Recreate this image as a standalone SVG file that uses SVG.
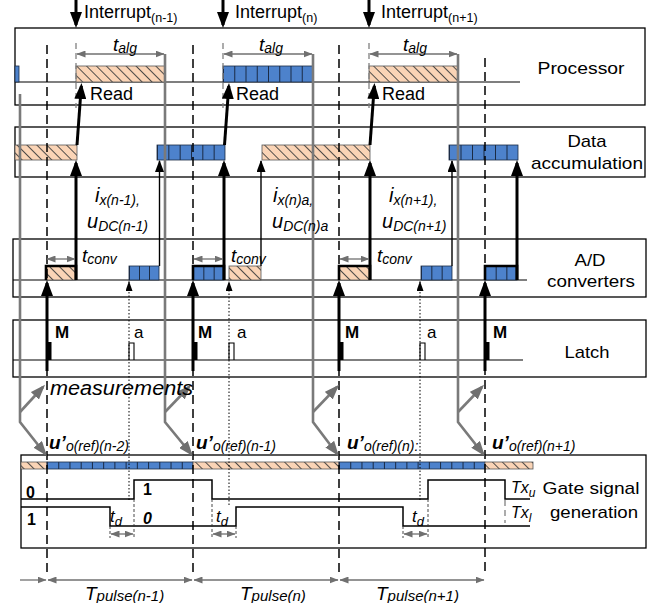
<svg xmlns="http://www.w3.org/2000/svg" width="647" height="603" viewBox="0 0 647 603">
<defs>
<pattern id="hatch" patternUnits="userSpaceOnUse" width="7" height="7" patternTransform="rotate(-45)">
<rect x="-1" y="-1" width="9" height="9" fill="#FAD4B6"/>
<line x1="0.5" y1="-1" x2="0.5" y2="8" stroke="#3c3c3c" stroke-width="0.9"/>
</pattern>
<marker id="ab" viewBox="0 0 16 12" refX="13" refY="6" markerWidth="16" markerHeight="12" markerUnits="userSpaceOnUse" orient="auto"><path d="M0,0L16,6L0,12z" fill="#000"/></marker>
<marker id="as" viewBox="0 0 12 9" refX="11" refY="4.5" markerWidth="12" markerHeight="9" markerUnits="userSpaceOnUse" orient="auto"><path d="M0,0L12,4.5L0,9z" fill="#000"/></marker>
<marker id="aa" viewBox="0 0 10 7" refX="10" refY="3.5" markerWidth="10" markerHeight="7" markerUnits="userSpaceOnUse" orient="auto"><path d="M0,0L10,3.5L0,7z" fill="#000"/></marker>
<marker id="ag" viewBox="0 0 15 11" refX="12" refY="5.5" markerWidth="15" markerHeight="11" markerUnits="userSpaceOnUse" orient="auto"><path d="M0,0L15,5.5L0,11z" fill="#707070"/></marker>
<marker id="ad" viewBox="0 0 9 7" refX="8.5" refY="3.5" markerWidth="9" markerHeight="7" markerUnits="userSpaceOnUse" orient="auto-start-reverse"><path d="M0,0L9,3.5L0,7z" fill="#707070"/></marker>
</defs>
<style>
text{font-family:"Liberation Sans",Arial,Helvetica,sans-serif;fill:#000}
.lb{font-size:18px}
.rl{font-size:17px}
.it{font-style:italic}
.bd{font-weight:bold}
.box{fill:none;stroke:#000;stroke-width:1.3}
.tl{fill:none;stroke:#000;stroke-width:1.1}
.dash{fill:none;stroke:#000;stroke-width:1.5;stroke-dasharray:9 5}
.gdash{fill:none;stroke:#808080;stroke-width:1.3;stroke-dasharray:6 4}
.dot{fill:none;stroke:#000;stroke-width:1;stroke-dasharray:1.5 2}
.tick{fill:none;stroke:#333;stroke-width:0.9;stroke-dasharray:3 2}
.gl{fill:none;stroke:#7a7a7a;stroke-width:2.6}
.thick{fill:none;stroke:#000;stroke-width:3}
.thin{fill:none;stroke:#000;stroke-width:1.4}
.dim{fill:none;stroke:#707070;stroke-width:1.3}
.or{fill:url(#hatch);stroke:#555;stroke-width:0.8}
.bl{fill:#4D82CC;stroke:#1b2b45;stroke-width:0.8}
.cell{stroke:#1b2b45}
.ob{fill:none;stroke:#000;stroke-width:2.6}
.sig{fill:none;stroke:#000;stroke-width:1.5}
</style>

<!-- row boxes -->
<g id="processor">
<rect class="box" x="15" y="28" width="630" height="77"/>
<line class="tl" x1="15" y1="82" x2="520" y2="82"/>
<rect class="bl" x="15" y="66" width="4" height="16"/>
<rect class="or" x="76" y="66" width="89" height="16"/>
<rect class="bl" x="223" y="66" width="90" height="16"/>
<line class="cell" x1="223" y1="74" x2="313" y2="74" stroke-width="16" stroke-dasharray="1 10.25"/>
<rect class="or" x="369" y="66" width="89" height="16"/>
<text class="rl" x="581" y="74" text-anchor="middle" textLength="87" lengthAdjust="spacingAndGlyphs">Processor</text>
</g>

<g id="data-accumulation">
<rect class="box" x="15" y="127" width="630" height="50"/>
<rect class="or" x="15" y="145" width="62" height="15"/>
<rect class="bl" x="157" y="145" width="68" height="15"/>
<line class="cell" x1="157" y1="152.5" x2="225" y2="152.5" stroke-width="15" stroke-dasharray="1 10.33"/>
<rect class="or" x="262" y="145" width="108" height="15"/>
<rect class="bl" x="449" y="145" width="69" height="15"/>
<line class="cell" x1="449" y1="152.5" x2="518" y2="152.5" stroke-width="15" stroke-dasharray="1 10.5"/>
<text class="rl" x="587" y="147" text-anchor="middle" textLength="39" lengthAdjust="spacingAndGlyphs">Data</text>
<text class="rl" x="587" y="169" text-anchor="middle" textLength="112" lengthAdjust="spacingAndGlyphs">accumulation</text>
</g>

<g id="ad-converters">
<rect class="box" x="13" y="239" width="633" height="58"/>
<line class="tl" x1="13" y1="280" x2="527" y2="280"/>
<rect class="or" x="46" y="266" width="30" height="14"/>
<path class="ob" d="M46,280V266H76V280"/>
<rect class="bl" x="129" y="266" width="30" height="14"/>
<line class="cell" x1="129" y1="273" x2="159" y2="273" stroke-width="14" stroke-dasharray="1 9"/>
<rect class="bl" x="193" y="266" width="31" height="14"/>
<line class="cell" x1="193" y1="273" x2="224" y2="273" stroke-width="14" stroke-dasharray="1 9.33"/>
<path class="ob" d="M193,280V266H224V280"/>
<rect class="or" x="229" y="266" width="32" height="14"/>
<rect class="or" x="339" y="266" width="31" height="14"/>
<path class="ob" d="M339,280V266H370V280"/>
<rect class="bl" x="421" y="266" width="31" height="14"/>
<line class="cell" x1="421" y1="273" x2="452" y2="273" stroke-width="14" stroke-dasharray="1 9.33"/>
<rect class="bl" x="485" y="266" width="32" height="14"/>
<line class="cell" x1="485" y1="273" x2="517" y2="273" stroke-width="14" stroke-dasharray="1 9.67"/>
<path class="ob" d="M485,280V266H517V280"/>
<text class="rl" x="590" y="266" text-anchor="middle" textLength="31" lengthAdjust="spacingAndGlyphs">A/D</text>
<text class="rl" x="591" y="287" text-anchor="middle" textLength="88" lengthAdjust="spacingAndGlyphs">converters</text>
</g>

<g id="latch">
<rect class="box" x="13" y="320" width="633" height="57"/>
<line class="tl" x1="13" y1="360" x2="523" y2="360"/>
<rect x="46.5" y="342" width="5" height="18" fill="#000"/>
<rect x="192.5" y="342" width="5" height="18" fill="#000"/>
<rect x="338.5" y="342" width="5" height="18" fill="#000"/>
<rect x="484.5" y="342" width="5" height="18" fill="#000"/>
<path class="tl" d="M129,360V343H134V360M229,360V343H234V360M420,360V343H425V360"/>
<text class="rl bd" x="55" y="338">M</text>
<text class="rl bd" x="198" y="338">M</text>
<text class="rl bd" x="345" y="338">M</text>
<text class="rl bd" x="493" y="338">M</text>
<text class="rl" x="134" y="338">a</text>
<text class="rl" x="237" y="338">a</text>
<text class="rl" x="427" y="338">a</text>
<text class="rl" x="587" y="358" text-anchor="middle" textLength="45" lengthAdjust="spacingAndGlyphs">Latch</text>
</g>

<g id="gate-signal-generation">
<rect class="box" x="21" y="455" width="625" height="93"/>
<rect class="or" x="21" y="462" width="26" height="7"/>
<rect class="bl" x="47" y="462" width="146" height="7"/>
<line class="cell" x1="47" y1="465.5" x2="193" y2="465.5" stroke-width="7" stroke-dasharray="1 10.23"/>
<rect class="or" x="193" y="462" width="146" height="7"/>
<rect class="bl" x="339" y="462" width="146" height="7"/>
<line class="cell" x1="339" y1="465.5" x2="485" y2="465.5" stroke-width="7" stroke-dasharray="1 10.23"/>
<rect class="or" x="485" y="462" width="48" height="7"/>
<path class="sig" d="M21,499H134V480H212V499H428V480H505V499H530"/>
<path class="sig" d="M21,507H110V526H236V507H403V526H530"/>
<path class="tick" d="M110,526V538M134,499V538M212,499V538M236,526V538M403,526V538M428,499V538"/>
<line class="gdash" x1="505" y1="500" x2="505" y2="523"/>
<text class="bd" font-size="16" x="26" y="498">0</text>
<text class="bd" font-size="16" x="27" y="525">1</text>
<text class="bd" font-size="16" x="143" y="495">1</text>
<text class="bd it" font-size="16" x="143" y="524">0</text>
<text class="it" font-size="17" x="110" y="522">t<tspan font-size="13" dy="4">d</tspan></text>
<text class="it" font-size="17" x="216" y="522">t<tspan font-size="13" dy="4">d</tspan></text>
<text class="it" font-size="17" x="412" y="522">t<tspan font-size="13" dy="4">d</tspan></text>
<text class="it" font-size="16" x="511" y="493">Tx<tspan font-size="12" dy="4">u</tspan></text>
<text class="it" font-size="16" x="511" y="518">Tx<tspan font-size="12" dy="4">l</tspan></text>
<text class="rl" x="591" y="494" text-anchor="middle" textLength="97" lengthAdjust="spacingAndGlyphs">Gate signal</text>
<text class="rl" x="594" y="518" text-anchor="middle" textLength="88" lengthAdjust="spacingAndGlyphs">generation</text>
</g>

<g id="connectors">
<!-- period dashed lines -->
<path class="dash" d="M47,45V572M193,45V572M339,45V572M485,58V572"/>
<!-- interrupt dashed lines -->
<path class="gdash" d="M76,43V108M223,43V108M369,43V108"/>
<!-- gray processor output lines -->
<path class="gl" d="M20,94V422L45.1,453.7" marker-end="url(#ag)"/>
<path class="gl" d="M20,412L43,387" marker-end="url(#ag)"/>
<path class="gl" d="M165,54V422L191,453.7" marker-end="url(#ag)"/>
<path class="gl" d="M165,412L189,387" marker-end="url(#ag)"/>
<path class="gl" d="M313,54V422L337,453.7" marker-end="url(#ag)"/>
<path class="gl" d="M313,412L337,387" marker-end="url(#ag)"/>
<path class="gl" d="M458,54V422L483,453.7" marker-end="url(#ag)"/>
<path class="gl" d="M458,412L482,387" marker-end="url(#ag)"/>
<!-- interrupts -->
<path class="thick" d="M76,0V25" marker-end="url(#ab)"/>
<path class="thick" d="M223,0V25" marker-end="url(#ab)"/>
<path class="thick" d="M369,0V25" marker-end="url(#ab)"/>
<!-- read arrows -->
<path class="thick" d="M77,145L81.3,86" marker-end="url(#ab)"/>
<path class="thick" d="M224.5,145L228.8,86" marker-end="url(#ab)"/>
<path class="thick" d="M370,145L374.3,86" marker-end="url(#ab)"/>
<!-- A/D to data -->
<path class="thick" d="M76,280V163" marker-end="url(#ab)"/>
<path class="thick" d="M224,280V163" marker-end="url(#ab)"/>
<path class="thick" d="M370,280V163" marker-end="url(#ab)"/>
<path class="thick" d="M517,280V163" marker-end="url(#ab)"/>
<path class="thin" d="M159.5,266V161" marker-end="url(#as)"/>
<path class="thin" d="M261,266V161" marker-end="url(#as)"/>
<path class="thin" d="M452,266V161" marker-end="url(#as)"/>
<!-- M arrows -->
<path class="thick" d="M47,371V283" marker-end="url(#ab)"/>
<path class="thick" d="M193,371V283" marker-end="url(#ab)"/>
<path class="thick" d="M339,371V283" marker-end="url(#ab)"/>
<path class="thick" d="M485,371V283" marker-end="url(#ab)"/>
<!-- a arrows (dotted) -->
<path class="dot" d="M129,500V281" marker-end="url(#aa)"/>
<path class="dot" d="M229,505V281" marker-end="url(#aa)"/>
<path class="dot" d="M420,500V281" marker-end="url(#aa)"/>
<!-- dimension arrows -->
<path class="dim" d="M77,54H164" marker-start="url(#ad)" marker-end="url(#ad)"/>
<path class="dim" d="M224,54H312" marker-start="url(#ad)" marker-end="url(#ad)"/>
<path class="dim" d="M370,54H457" marker-start="url(#ad)" marker-end="url(#ad)"/>
<path class="dim" d="M47,259H75" marker-start="url(#ad)" marker-end="url(#ad)"/>
<path class="dim" d="M194,259H223" marker-start="url(#ad)" marker-end="url(#ad)"/>
<path class="dim" d="M340,259H369" marker-start="url(#ad)" marker-end="url(#ad)"/>
<path class="dim" d="M111,534H133" marker-start="url(#ad)" marker-end="url(#ad)"/>
<path class="dim" d="M213,534H235" marker-start="url(#ad)" marker-end="url(#ad)"/>
<path class="dim" d="M404,534H427" marker-start="url(#ad)" marker-end="url(#ad)"/>
<path class="dim" d="M20,580H46" marker-end="url(#ad)"/>
<path class="dim" d="M48,580H192" marker-start="url(#ad)" marker-end="url(#ad)"/>
<path class="dim" d="M194,580H338" marker-start="url(#ad)" marker-end="url(#ad)"/>
<path class="dim" d="M340,580H484" marker-start="url(#ad)" marker-end="url(#ad)"/>
</g>

<g id="labels">
<text class="lb" x="84" y="18">Interrupt<tspan font-size="12.5" dy="4">(n-1)</tspan></text>
<text class="lb" x="235" y="18">Interrupt<tspan font-size="12.5" dy="4">(n)</tspan></text>
<text class="lb" x="381" y="18">Interrupt<tspan font-size="12.5" dy="4">(n+1)</tspan></text>
<text class="it" font-size="19" x="113" y="51">t<tspan font-size="14" dy="2">alg</tspan></text>
<text class="it" font-size="19" x="259" y="51">t<tspan font-size="14" dy="2">alg</tspan></text>
<text class="it" font-size="19" x="403" y="51">t<tspan font-size="14" dy="2">alg</tspan></text>
<text class="lb" x="90" y="100">Read</text>
<text class="lb" x="236" y="100">Read</text>
<text class="lb" x="382" y="100">Read</text>
<text class="it" font-size="20" x="95" y="202">i<tspan font-size="14" dy="3">x(n-1),</tspan></text>
<text class="it" font-size="20" x="87" y="228">u<tspan font-size="14" dy="3">DC(n-1)</tspan></text>
<text class="it" font-size="20" x="273" y="202">i<tspan font-size="14" dy="3">x(n)a,</tspan></text>
<text class="it" font-size="20" x="272" y="228">u<tspan font-size="14" dy="3">DC(n)a</tspan></text>
<text class="it" font-size="20" x="389" y="202">i<tspan font-size="14" dy="3">x(n+1),</tspan></text>
<text class="it" font-size="20" x="382" y="228">u<tspan font-size="14" dy="3">DC(n+1)</tspan></text>
<text class="it" font-size="19" x="82" y="262">t<tspan font-size="14" dy="2">conv</tspan></text>
<text class="it" font-size="19" x="231" y="262">t<tspan font-size="14" dy="2">conv</tspan></text>
<text class="it" font-size="19" x="377" y="262">t<tspan font-size="14" dy="2">conv</tspan></text>
<text class="it" font-size="20" x="50" y="395" textLength="143" lengthAdjust="spacingAndGlyphs">measurements</text>
<text class="it bd" font-size="19" x="49" y="449">u’<tspan font-size="14" font-weight="normal" dy="2">o(ref)(n-2)</tspan></text>
<text class="it bd" font-size="19" x="196" y="449">u’<tspan font-size="14" font-weight="normal" dy="2">o(ref)(n-1)</tspan></text>
<text class="it bd" font-size="19" x="347" y="449">u’<tspan font-size="14" font-weight="normal" dy="2">o(ref)(n):</tspan></text>
<text class="it bd" font-size="19" x="492" y="449">u’<tspan font-size="14" font-weight="normal" dy="2">o(ref)(n+1)</tspan></text>
<text class="it" font-size="19" x="85" y="600">T<tspan font-size="15" dy="1">pulse(n-1)</tspan></text>
<text class="it" font-size="19" x="240" y="600">T<tspan font-size="15" dy="1">pulse(n)</tspan></text>
<text class="it" font-size="19" x="376" y="600">T<tspan font-size="15" dy="1">pulse(n+1)</tspan></text>
</g>
</svg>
